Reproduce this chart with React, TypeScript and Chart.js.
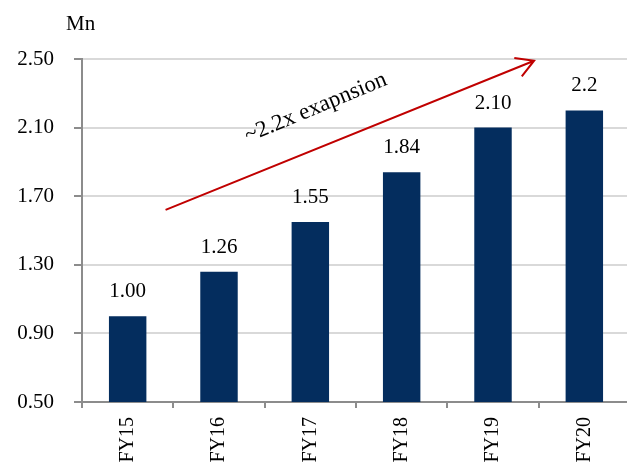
import React, { useEffect, useRef } from "react";
import { Chart, registerables } from "chart.js";

Chart.register(...registerables);

const categories = ["FY15", "FY16", "FY17", "FY18", "FY19", "FY20"];
const values = [1.0, 1.26, 1.55, 1.84, 2.1, 2.2];
const valueLabels = ["1.00", "1.26", "1.55", "1.84", "2.10", "2.2"];
const yMin = 0.5;
const yMax = 2.5;
const yStep = 0.4;
const unitLabel = "Mn";
const annotationText = "~2.2x exapnsion";
// arrow in data space: [category index, value]
const arrowStart = [0.415, 1.62];
const arrowEnd = [4.45, 2.49];
const annotationPos = [2.06, 2.215];

const FONT = "'Liberation Serif', 'Times New Roman', serif";

export default function App() {
  const ref = useRef<HTMLCanvasElement | null>(null);
  useEffect(() => {
    if (!ref.current) return;
    const overlay = {
      id: "overlay",
      afterDatasetsDraw(chart: any) {
        const ctx = chart.ctx;
        const meta = chart.getDatasetMeta(0);
        ctx.save();
        ctx.fillStyle = "#000";
        ctx.font = `21px ${FONT}`;
        ctx.textAlign = "center";
        ctx.textBaseline = "alphabetic";
        meta.data.forEach((bar: any, i: number) => {
          ctx.fillText(valueLabels[i], bar.x, bar.y - 19);
        });
        // unit label
        ctx.textAlign = "left";
        ctx.fillText(unitLabel, 66, 30);
        // arrow
        const xs = chart.scales.x;
        const ys = chart.scales.y;
        const x1 = xs.getPixelForValue(arrowStart[0]);
        const y1 = ys.getPixelForValue(arrowStart[1]);
        const x2 = xs.getPixelForValue(arrowEnd[0]);
        const y2 = ys.getPixelForValue(arrowEnd[1]);
        ctx.strokeStyle = "#C00000";
        ctx.lineWidth = 2;
        ctx.beginPath();
        ctx.moveTo(x1, y1);
        ctx.lineTo(x2, y2);
        const ang = Math.atan2(y1 - y2, x1 - x2);
        const hl = 20;
        const ha = (30 * Math.PI) / 180;
        ctx.moveTo(x2 + hl * Math.cos(ang + ha), y2 + hl * Math.sin(ang + ha));
        ctx.lineTo(x2, y2);
        ctx.lineTo(x2 + hl * Math.cos(ang - ha), y2 + hl * Math.sin(ang - ha));
        ctx.stroke();
        // annotation text
        const tx = xs.getPixelForValue(annotationPos[0]);
        const ty = ys.getPixelForValue(annotationPos[1]);
        ctx.translate(tx, ty);
        ctx.rotate((-22.5 * Math.PI) / 180);
        ctx.textAlign = "center";
        ctx.textBaseline = "middle";
        ctx.font = `23px ${FONT}`;
        ctx.fillStyle = "#000";
        ctx.fillText(annotationText, 0, 0);
        ctx.restore();
      },
    };
    const chart = new Chart(ref.current, {
      type: "bar",
      data: {
        labels: categories,
        datasets: [
          {
            data: values,
            backgroundColor: "#042d5e",
            borderWidth: 0,
            categoryPercentage: 1,
            barPercentage: 0.41,
          },
        ],
      },
      options: {
        animation: false,
        responsive: false,
        devicePixelRatio: 1,
        layout: { padding: { top: 59, right: 10, left: 0, bottom: 0 } },
        plugins: {
          legend: { display: false },
          tooltip: { enabled: false },
          title: { display: false },
        },
        scales: {
          x: {
            offset: true,
            grid: {
              display: true,
              drawOnChartArea: false,
              drawTicks: true,
              tickLength: 6,
              color: "#8c8c8c",
              lineWidth: 2,
            },
            border: { display: true, color: "#8c8c8c", width: 2 },
            ticks: {
              minRotation: 90,
              maxRotation: 90,
              padding: 9,
              color: "#000",
              font: { family: FONT, size: 20 },
            },
            afterFit: (s: any) => {
              s.height = 64;
            },
          },
          y: {
            min: yMin,
            max: yMax,
            grid: {
              color: "#d9d9d9",
              lineWidth: 2,
              tickLength: 8,
              tickColor: "#8c8c8c",
              tickWidth: 2,
            },
            border: { display: true, color: "#8c8c8c", width: 2 },
            ticks: {
              stepSize: yStep,
              padding: 20,
              color: "#000",
              font: { family: FONT, size: 21 },
              callback: (v: any) => Number(v).toFixed(2),
            },
            afterFit: (s: any) => {
              s.width = 82;
            },
          },
        },
      },
      plugins: [overlay],
    });
    return () => chart.destroy();
  }, []);
  return (
    <div
      style={{
        position: "fixed",
        left: 0,
        top: 0,
        width: 627,
        height: 466,
        overflow: "hidden",
        background: "#fff",
      }}
    >
      <canvas
        ref={ref}
        width={640}
        height={466}
        style={{ position: "absolute", left: 0, top: 0, width: 640, height: 466 }}
      />
    </div>
  );
}
